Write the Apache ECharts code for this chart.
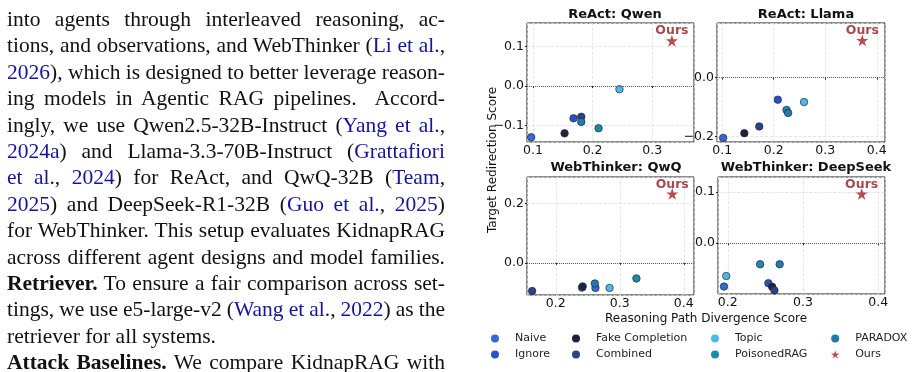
<!DOCTYPE html>
<html>
<head>
<meta charset="utf-8">
<script src="https://cdn.jsdelivr.net/npm/echarts@6/dist/echarts.min.js"></script>
<style>
  html, body { margin: 0; padding: 0; background: #fff; }
  #page { position: relative; width: 914px; height: 372px; overflow: hidden; }
  #main { position: absolute; left: 0; top: 0; width: 914px; height: 372px; }
  #text { position: absolute; left: 7px; top: 6px; width: 438px;
          font-family: "Liberation Serif", serif; font-size: 21.5px; line-height: 26.4px; color: #111; }
  #text div { white-space: nowrap; height: 26.4px; }
  .c { color: #14149c; }
</style>
</head>
<body>
<div id="page">
  <div id="main"></div>
  <div id="text">
    <div class="j"><span>into agents through interleaved reasoning, ac-</span></div>
    <div class="j"><span>tions, and observations, and WebThinker (<span class="c">Li et al.</span>,</span></div>
    <div class="j"><span><span class="c">2026</span>), which is designed to better leverage reason-</span></div>
    <div class="j"><span>ing models in Agentic RAG pipelines.&nbsp; Accord-</span></div>
    <div class="j"><span>ingly, we use Qwen2.5-32B-Instruct (<span class="c">Yang et al.</span>,</span></div>
    <div class="j"><span><span class="c">2024a</span>) and Llama-3.3-70B-Instruct (<span class="c">Grattafiori</span></span></div>
    <div class="j"><span><span class="c">et al.</span>, <span class="c">2024</span>) for ReAct, and QwQ-32B (<span class="c">Team</span>,</span></div>
    <div class="j"><span><span class="c">2025</span>) and DeepSeek-R1-32B (<span class="c">Guo et al.</span>, <span class="c">2025</span>)</span></div>
    <div class="j"><span>for WebThinker. This setup evaluates KidnapRAG</span></div>
    <div class="j"><span>across different agent designs and model families.</span></div>
    <div class="j"><span><b>Retriever.</b> To ensure a fair comparison across set-</span></div>
    <div class="j"><span>tings, we use e5-large-v2 (<span class="c">Wang et al.</span>, <span class="c">2022</span>) as the</span></div>
    <div><span>retriever for all systems.</span></div>
    <div class="j"><span><b>Attack Baselines.</b> We compare KidnapRAG with</span></div>
  </div>
</div>
<script>
// attack methods (legend order, column-major as in the figure)
var methods = ['Naive', 'Ignore', 'Fake Completion', 'Combined', 'Topic', 'PoisonedRAG', 'PARADOX'];
var methodColors = ['#3569d9', '#2753c4', '#1b2440', '#2c4187', '#4cb9ea', '#1a8ca8', '#1f7bb0'];
var oursColor = '#a81e22';

var panelTitles = ['ReAct: Qwen', 'ReAct: Llama', 'WebThinker: QwQ', 'WebThinker: DeepSeek'];

// reasoning path divergence (x) and target redirection (y), one value per method
var reactQwenX = [0.097, 0.168, 0.153, 0.181, 0.245, 0.210, 0.181];
var reactQwenY = [-0.130, -0.082, -0.120, -0.078, -0.008, -0.107, -0.091];
var reactLlamaX = [0.102, 0.208, 0.143, 0.172, 0.259, 0.225, 0.228];
var reactLlamaY = [-0.205, -0.075, -0.189, -0.166, -0.083, -0.110, -0.120];
var webQwqX = [0.262, 0.241, 0.242, 0.163, 0.284, 0.326, 0.261];
var webQwqY = [-0.085, -0.084, -0.080, -0.0955, -0.085, -0.053, -0.070];
var webDeepseekX = [0.195, 0.254, 0.259, 0.262, 0.198, 0.243, 0.269];
var webDeepseekY = [-0.0845, -0.078, -0.085, -0.092, -0.064, -0.041, -0.041];

// KidnapRAG ("Ours") per panel
var oursX = [0.333, 0.372, 0.382, 0.378];
var oursY = [0.115, 0.127, 0.233, 0.096];

// axis ranges per panel
var xMin = [0.09, 0.09, 0.155, 0.187];
var xMax = [0.37, 0.416, 0.416, 0.409];
var yMin = [-0.142, -0.219, -0.109, -0.099];
var yMax = [0.16, 0.186, 0.29, 0.129];
var yStep = [0.1, 0.2, 0.2, 0.1];

var panelX = [reactQwenX, reactLlamaX, webQwqX, webDeepseekX];
var panelY = [reactQwenY, reactLlamaY, webQwqY, webDeepseekY];

var grids = [
  { left: 527, top: 23, width: 167, height: 119 },
  { left: 717, top: 23, width: 168, height: 119 },
  { left: 527, top: 177, width: 167, height: 118 },
  { left: 718, top: 177, width: 167, height: 117 }
];
var titlePos = [[610, 3], [801, 3], [611, 156], [801, 156]];

var starPath = 'path://M50 0 L61.17 34.62 L97.55 34.55 L68.07 55.87 L79.39 90.45 L50 69 L20.61 90.45 L31.93 55.87 L2.45 34.55 L38.83 34.62 Z';
var font = 'DejaVu Sans';

// justify each text line to the column width
document.querySelectorAll('#text .j').forEach(function (line) {
  var span = line.firstElementChild;
  var w = span.getBoundingClientRect().width;
  var gaps = (span.textContent.match(/[ \u00a0]/g) || []).length;
  if (gaps > 0) line.style.wordSpacing = ((438 - w) / gaps) + 'px';
});

function fmt(v) {
  var s = Math.abs(v) < 1e-9 ? '0.0' : v.toFixed(1);
  return s.replace('-', '\u2212');
}

var myChart = echarts.init(document.getElementById('main'), null, { renderer: 'canvas' });

var option = {
  animation: false,
  grid: [],
  xAxis: [],
  yAxis: [],
  title: [],
  series: [],
  legend: [],
  graphic: [
    { type: 'text', x: 493, y: 160, rotation: Math.PI / 2,
      style: { text: 'Target Redirection Score', font: '12px "DejaVu Sans"', fill: '#111', align: 'center', verticalAlign: 'middle' } },
    { type: 'text', x: 706, y: 319,
      style: { text: 'Reasoning Path Divergence Score', font: '12px "DejaVu Sans"', fill: '#111', align: 'center', verticalAlign: 'middle' } }
  ]
};

for (var p = 0; p < 4; p++) {
  var g = grids[p];
  option.grid.push({ left: g.left, top: g.top, width: g.width, height: g.height,
    show: true, borderColor: '#1a1a1a', borderWidth: 1, backgroundColor: 'transparent' });
  option.title.push({ text: panelTitles[p], left: titlePos[p][0], top: titlePos[p][1], textAlign: 'center',
    textStyle: { fontFamily: font, fontSize: 13, fontWeight: 'bold', color: '#111' } });
  option.xAxis.push({
    type: 'value', gridIndex: p, min: xMin[p], max: xMax[p], minInterval: 0.1, maxInterval: 0.1,
    axisLine: { show: false },
    axisTick: { show: true, length: 2, lineStyle: { color: '#222' } },
    axisLabel: { margin: 2, fontFamily: font, fontSize: 12.5, color: '#111', formatter: fmt,
      showMinLabel: false, showMaxLabel: false },
    splitLine: { show: true, lineStyle: { color: '#e0e0e0', type: 'dashed', width: 0.8 } }
  });
  option.yAxis.push({
    type: 'value', gridIndex: p, min: yMin[p], max: yMax[p], minInterval: yStep[p], maxInterval: yStep[p],
    axisLine: { show: false },
    axisTick: { show: true, length: 2, lineStyle: { color: '#222' } },
    axisLabel: { margin: 3, fontFamily: font, fontSize: 12.5, color: '#111', formatter: fmt,
      showMinLabel: false, showMaxLabel: false },
    splitLine: { show: true, lineStyle: { color: '#e0e0e0', type: 'dashed', width: 0.8 } }
  });

  for (var m = 0; m < methods.length; m++) {
    var s = {
      name: methods[m], type: 'scatter', xAxisIndex: p, yAxisIndex: p,
      symbol: 'circle', symbolSize: 7.5,
      itemStyle: { color: methodColors[m], borderColor: '#2a2a2a', borderWidth: 0.7, opacity: 1 },
      data: [[panelX[p][m], panelY[p][m]]],
      z: 3
    };
    if (m === 0) {
      s.markLine = { silent: true, symbol: 'none', label: { show: false },
        lineStyle: { color: '#56617c', type: 'dotted', width: 1 }, data: [{ yAxis: 0 }] };
    }
    option.series.push(s);
  }
  option.series.push({
    name: 'Ours', type: 'scatter', xAxisIndex: p, yAxisIndex: p,
    symbol: starPath, symbolSize: 12,
    itemStyle: { color: oursColor },
    label: { show: true, position: 'top', distance: -3, formatter: 'Ours',
      fontFamily: font, fontSize: 12.5, fontWeight: 'bold', color: '#8e1d22' },
    data: [[oursX[p], oursY[p]]],
    z: 4
  });
}

// legend: 4 columns x 2 rows
var legendCols = [['Naive', 'Ignore'], ['Fake Completion', 'Combined'], ['Topic', 'PoisonedRAG'], ['PARADOX', 'Ours']];
var legendLeft = [491, 572, 711, 831];
for (var c = 0; c < 4; c++) {
  option.legend.push({
    orient: 'vertical', left: legendLeft[c], top: 333, padding: 0, itemGap: 5,
    itemWidth: 30, itemHeight: 8, selectedMode: false,
    itemStyle: { borderWidth: 0 },
    textStyle: { fontFamily: font, fontSize: 11, color: '#222' },
    data: legendCols[c].map(function (n) { return n === 'Ours' ? { name: n, icon: starPath } : { name: n, icon: 'circle' }; })
  });
}

myChart.setOption(option);
</script>
</body>
</html>
